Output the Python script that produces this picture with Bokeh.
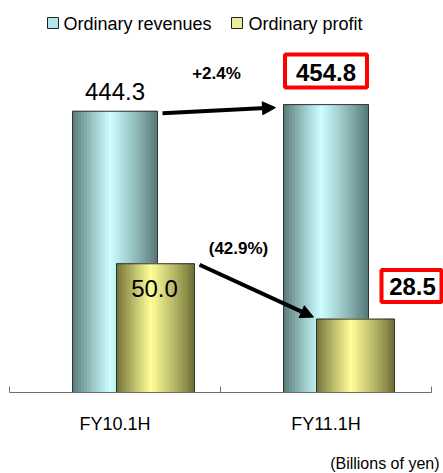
import numpy as np
from bokeh.plotting import figure
from bokeh.models import Range1d, LinearAxis, FixedTicker, Arrow, NormalHead, ColumnDataSource
from bokeh.core.properties import value
from bokeh.embed import file_html
from bokeh.resources import INLINE

# ---------------- data ----------------
categories = ["FY10.1H", "FY11.1H"]
revenues = [444.3, 454.8]
profit = [50.0, 28.5]
rev_change = "+2.4%"
profit_change = "(42.9%)"
unit_note = "(Billions of yen)"
legend_labels = ["Ordinary revenues", "Ordinary profit"]

# ---------------- layout constants ----------------
W, H = 443, 473
PX_X = 211.0      # pixels per x unit
REV_PX = 0.633    # pixels per revenue unit
PRO_PX = 2.575    # pixels per profit unit
X0 = 9.0          # px of x = 0
BASE = 392.0      # px (from top) of y = 0
LIFT = 0.35       # baseline correction, in em
FONT_NAME = "Liberation Sans"
FONT = value(FONT_NAME)


def dx(px):
    return px / PX_X


def dr(px):
    return px / REV_PX


def dp(px):
    return px / PRO_PX


def sx(px):
    return (px - X0) / PX_X


def sr(py):
    return (BASE - py) / REV_PX


p = figure(width=W, height=H,
           x_range=Range1d(sx(0), sx(W)),
           y_range=Range1d(sr(H), sr(0)),
           output_backend="svg", toolbar_location=None,
           x_axis_location=None, y_axis_location=None,
           min_border=0, outline_line_color=None,
           background_fill_color="white", border_fill_color="white")
p.extra_y_ranges = {"profit": Range1d(-(H - BASE) / PRO_PX, BASE / PRO_PX)}
p.grid.visible = False

REV_W = dx(85)
PRO_W = dx(78)
PRO_SHIFT = [dx(40.5), dx(29.5)]
rev_x = [i + 0.5 for i in range(len(categories))]
pro_x = [i + 0.5 + PRO_SHIFT[i] for i in range(len(categories))]

REV_EDGE, REV_MID = (86, 118, 118), (204, 255, 255)
PRO_EDGE, PRO_MID = (108, 108, 52), (255, 255, 153)


def blend(edge, mid, t, peak=0.45):
    if t <= peak:
        f = t / peak
    else:
        f = (1 - t) / (1 - peak)
    f = f ** 0.9
    c = [int(round(e + (m - e) * f)) for e, m in zip(edge, mid)]
    return "#%02x%02x%02x" % tuple(c)


def gradient_bars(centers, vals, width, edge, mid, rng, n=28):
    xs, tops, cols = [], [], []
    for c, v in zip(centers, vals):
        for k in range(n):
            t = (k + 0.5) / n
            xs.append(c - width / 2 + width * t)
            tops.append(v)
            cols.append(blend(edge, mid, t))
    src = ColumnDataSource(dict(x=xs, top=tops, color=cols))
    kw = {} if rng is None else {"y_range_name": rng}
    p.vbar(x="x", top="top", bottom=0, width=width / n, fill_color="color",
           line_color="color", line_width=1, source=src, **kw)
    p.vbar(x=centers, top=vals, bottom=0, width=width, fill_color=None,
           line_color="#333333", line_width=1, **kw)


gradient_bars(rev_x, revenues, REV_W, REV_EDGE, REV_MID, None)
gradient_bars(pro_x, profit, PRO_W, PRO_EDGE, PRO_MID, "profit")

# ---------------- axis ----------------
ax = LinearAxis(fixed_location=0,
                ticker=FixedTicker(ticks=rev_x, minor_ticks=[0, 1, 2]),
                major_label_overrides={rev_x[i]: categories[i] for i in range(len(categories))},
                major_tick_in=0, major_tick_out=0,
                minor_tick_in=6, minor_tick_out=0,
                axis_line_color="#6e6e6e", minor_tick_line_color="#6e6e6e",
                major_label_text_font=FONT_NAME, major_label_text_font_size="18px",
                major_label_text_color="#000000", major_label_standoff=21,
                bounds=(0, 2))
p.add_layout(ax, "below")


def txt(x, y, text, size, bold=False, align="center", rng=None):
    kw = {} if rng is None else {"y_range_name": rng}
    p.text(x=x, y=y, text=text, text_font=FONT, text_font_size="%dpx" % size,
           text_font_style="bold" if bold else "normal", text_align=align,
           text_baseline="alphabetic", text_color="#000000", **kw)


# ---------------- legend ----------------
p.rect(x=[sx(52.5), sx(236.5)], y=[sr(22.5)] * 2,
       width=dx(11), height=dr(11),
       fill_color=["#b4e8e8", "#ecec9e"], line_color="#222222", line_width=1)
txt([sx(63), sx(248)], [sr(30 - LIFT * 18)] * 2, legend_labels, 18, align="left")

# ---------------- value labels ----------------
txt([rev_x[0]], [revenues[0] + dr(11 + LIFT * 24)], ["%.1f" % revenues[0]], 24)
p.rect(x=[rev_x[1]], y=[revenues[1] + dr(33.5)], width=dx(82), height=dr(33),
       fill_color="white", line_color="#ff0000", line_width=4)
txt([rev_x[1]], [revenues[1] + dr(24 + LIFT * 24)], ["%.1f" % revenues[1]], 24, bold=True)

txt([pro_x[0] - dx(1)], [profit[0] - dp(33 - LIFT * 24)], ["%.1f" % profit[0]], 24,
    rng="profit")
p.rect(x=[rev_x[1] + dx(85.5)], y=[profit[1] + dp(33)], width=dx(60), height=dp(32),
       fill_color="white", line_color="#ff0000", line_width=4, y_range_name="profit")
txt([rev_x[1] + dx(86.5)], [profit[1] + dp(24 + LIFT * 24)], ["%.1f" % profit[1]], 24,
    bold=True, rng="profit")

# change labels
txt([1.0 - dx(4)], [revenues[0] + dr(32 + LIFT * 17)], [rev_change], 17, bold=True)
txt([1.0 + dx(18)], [profit[0] + dp(9.7 + LIFT * 17)], [profit_change], 17, bold=True,
    rng="profit")

# unit note
txt([sx(439)], [sr(469 - LIFT * 16)], [unit_note], 16, align="right")

# ---------------- arrows ----------------
p.add_layout(Arrow(end=NormalHead(size=13, fill_color="black", line_color="black"),
                   x_start=rev_x[0] + REV_W / 2 + dx(5), y_start=revenues[0] - dr(2),
                   x_end=rev_x[1] - REV_W / 2 - dx(8), y_end=revenues[1] - dr(3),
                   line_width=4, line_color="black"))
p.add_layout(Arrow(end=NormalHead(size=13, fill_color="black", line_color="black"),
                   x_start=pro_x[0] + PRO_W / 2 + dx(5), y_start=profit[0] - dp(1),
                   x_end=pro_x[1] - PRO_W / 2 - dx(3), y_end=profit[1] + dp(2),
                   line_width=4, line_color="black", y_range_name="profit"))

open("out.html", "w").write(file_html(p, INLINE))
